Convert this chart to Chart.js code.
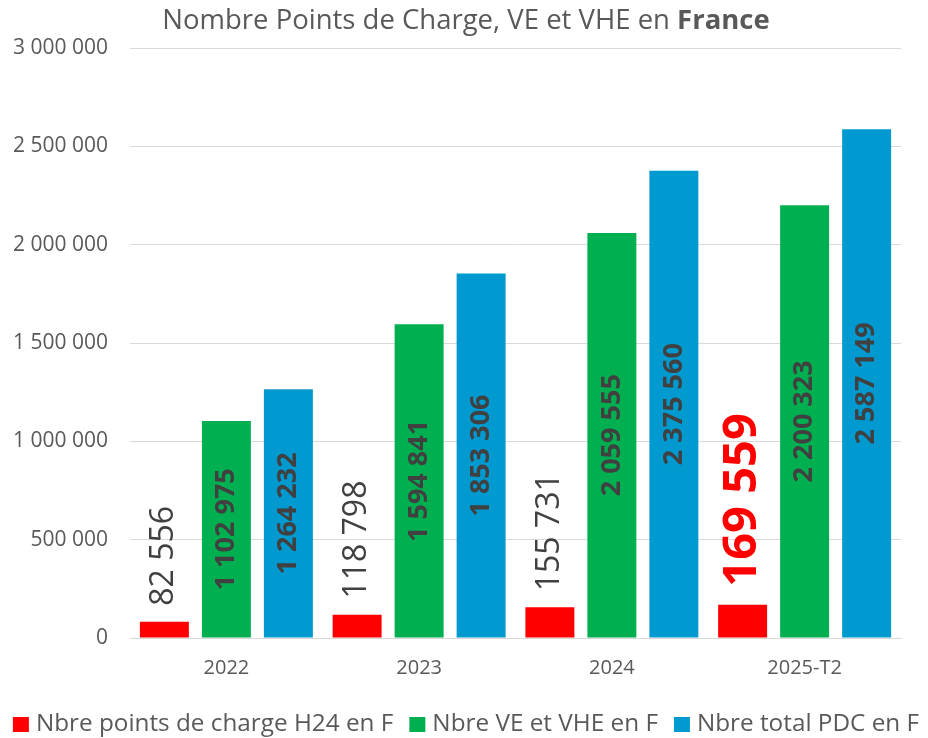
<!DOCTYPE html>
<html>
<head>
<meta charset="utf-8">
<script src="https://cdn.jsdelivr.net/npm/chart.js@4"></script>
<style>
  html, body { margin: 0; padding: 0; background: #fff; }
  #wrap { width: 928px; height: 738px; }
</style>
</head>
<body>
<div id="wrap"><canvas id="chart"></canvas></div>
<script>
// data
var categories = ['2022', '2023', '2024', '2025-T2'];
var pointsH24 = [82556, 118798, 155731, 169559];
var nbreVE = [1102975, 1594841, 2059555, 2200323];
var totalPDC = [1264232, 1853306, 2375560, 2587149];
var seriesNames = ['Nbre points de charge H24 en F', 'Nbre VE et VHE en F', 'Nbre total PDC en F'];
var seriesColors = ['#FF0000', '#00B050', '#0099D0'];
var yTicks = [0, 500000, 1000000, 1500000, 2000000, 2500000, 3000000];

var FONT = '"Open Sans", "Liberation Sans", sans-serif';
var GREY = '#595959';
var DARK = '#404040';

function fmt(v) {
  return String(Math.round(v)).replace(/\B(?=(\d{3})+(?!\d))/g, ' ');
}

// title with a bold last word
var titlePlugin = {
  id: 'mixedTitle',
  afterDraw: function (chart) {
    var ctx = chart.ctx;
    var a = 'Nombre Points de Charge, VE et VHE en ';
    var b = 'France';
    ctx.save();
    ctx.font = '27.5px ' + FONT;
    var wa = ctx.measureText(a).width;
    ctx.font = 'bold 27.5px ' + FONT;
    var wb = ctx.measureText(b).width;
    var x0 = chart.width / 2 - (wa + wb) / 2 + 2;
    ctx.fillStyle = GREY;
    ctx.textBaseline = 'middle';
    ctx.textAlign = 'left';
    ctx.font = '27.5px ' + FONT;
    ctx.fillText(a, x0, 21);
    ctx.font = 'bold 27.5px ' + FONT;
    ctx.fillText(b, x0 + wa, 21);
    ctx.restore();
  }
};

// legend on one line, drawn by hand (the built-in one wraps)
var legendPlugin = {
  id: 'lineLegend',
  afterDraw: function (chart) {
    var ctx = chart.ctx;
    var box = 16, gap = 7, sep = 16, y = 724;
    ctx.save();
    ctx.font = '24.3px ' + FONT;
    var widths = chart.data.datasets.map(function (ds) {
      return box + gap + ctx.measureText(ds.label).width;
    });
    var total = widths.reduce(function (s, w) { return s + w; }, 0) + sep * (widths.length - 1);
    var x = chart.width / 2 - total / 2 + 2;
    ctx.textBaseline = 'middle';
    ctx.textAlign = 'left';
    chart.data.datasets.forEach(function (ds, i) {
      ctx.fillStyle = ds.backgroundColor;
      ctx.fillRect(x, y - 7, box, 15);
      ctx.fillStyle = GREY;
      ctx.fillText(ds.label, x + box + gap, y);
      x += widths[i] + sep;
    });
    ctx.restore();
  }
};

// rotated value labels
var labelPlugin = {
  id: 'barLabels',
  afterDatasetsDraw: function (chart) {
    var ctx = chart.ctx;
    chart.data.datasets.forEach(function (ds, di) {
      var meta = chart.getDatasetMeta(di);
      meta.data.forEach(function (bar, i) {
        var text = fmt(ds.data[i]);
        ctx.save();
        ctx.textBaseline = 'middle';
        if (di === 0) {
          var last = i === ds.data.length - 1;
          ctx.font = last ? 'bold 47px ' + FONT : '32px ' + FONT;
          ctx.fillStyle = last ? '#FF0000' : DARK;
          ctx.translate(bar.x, bar.y - (last ? 18 : 16));
          ctx.rotate(-Math.PI / 2);
          ctx.textAlign = 'left';
          ctx.fillText(text, 0, 0);
        } else {
          ctx.font = 'bold 27px ' + FONT;
          ctx.fillStyle = DARK;
          ctx.translate(bar.x, (bar.y + bar.base) / 2);
          ctx.rotate(-Math.PI / 2);
          ctx.textAlign = 'center';
          ctx.fillText(text, 0, 0);
        }
        ctx.restore();
      });
    });
  }
};

new Chart(document.getElementById('chart'), {
  type: 'bar',
  data: {
    labels: categories,
    datasets: [
      { label: seriesNames[0], data: pointsH24, backgroundColor: seriesColors[0] },
      { label: seriesNames[1], data: nbreVE, backgroundColor: seriesColors[1] },
      { label: seriesNames[2], data: totalPDC, backgroundColor: seriesColors[2] }
    ]
  },
  options: {
    responsive: true,
    maintainAspectRatio: false,
    animation: false,
    datasets: { bar: { barPercentage: 0.79, categoryPercentage: 0.965 } },
    layout: { padding: { top: 48, right: 27, left: 0, bottom: 40 } },
    plugins: {
      title: { display: false },
      tooltip: { enabled: false },
      legend: { display: false }
    },
    scales: {
      x: {
        grid: { display: false, drawTicks: false },
        border: { display: true, color: '#D9D9D9', width: 1 },
        ticks: { color: GREY, font: { family: FONT, size: 20 }, padding: 18 },
        afterFit: function (scale) { scale.height = 60; }
      },
      y: {
        min: 0,
        max: 3000000,
        grid: { color: '#D9D9D9', drawTicks: false },
        border: { display: false },
        afterBuildTicks: function (scale) {
          scale.ticks = yTicks.map(function (v) { return { value: v }; });
        },
        ticks: {
          color: GREY,
          font: { family: FONT, size: 21 },
          padding: 22,
          callback: function (v) { return fmt(v); }
        },
        afterFit: function (scale) { scale.width = 130; }
      }
    }
  },
  plugins: [titlePlugin, labelPlugin, legendPlugin]
});
</script>
</body>
</html>
